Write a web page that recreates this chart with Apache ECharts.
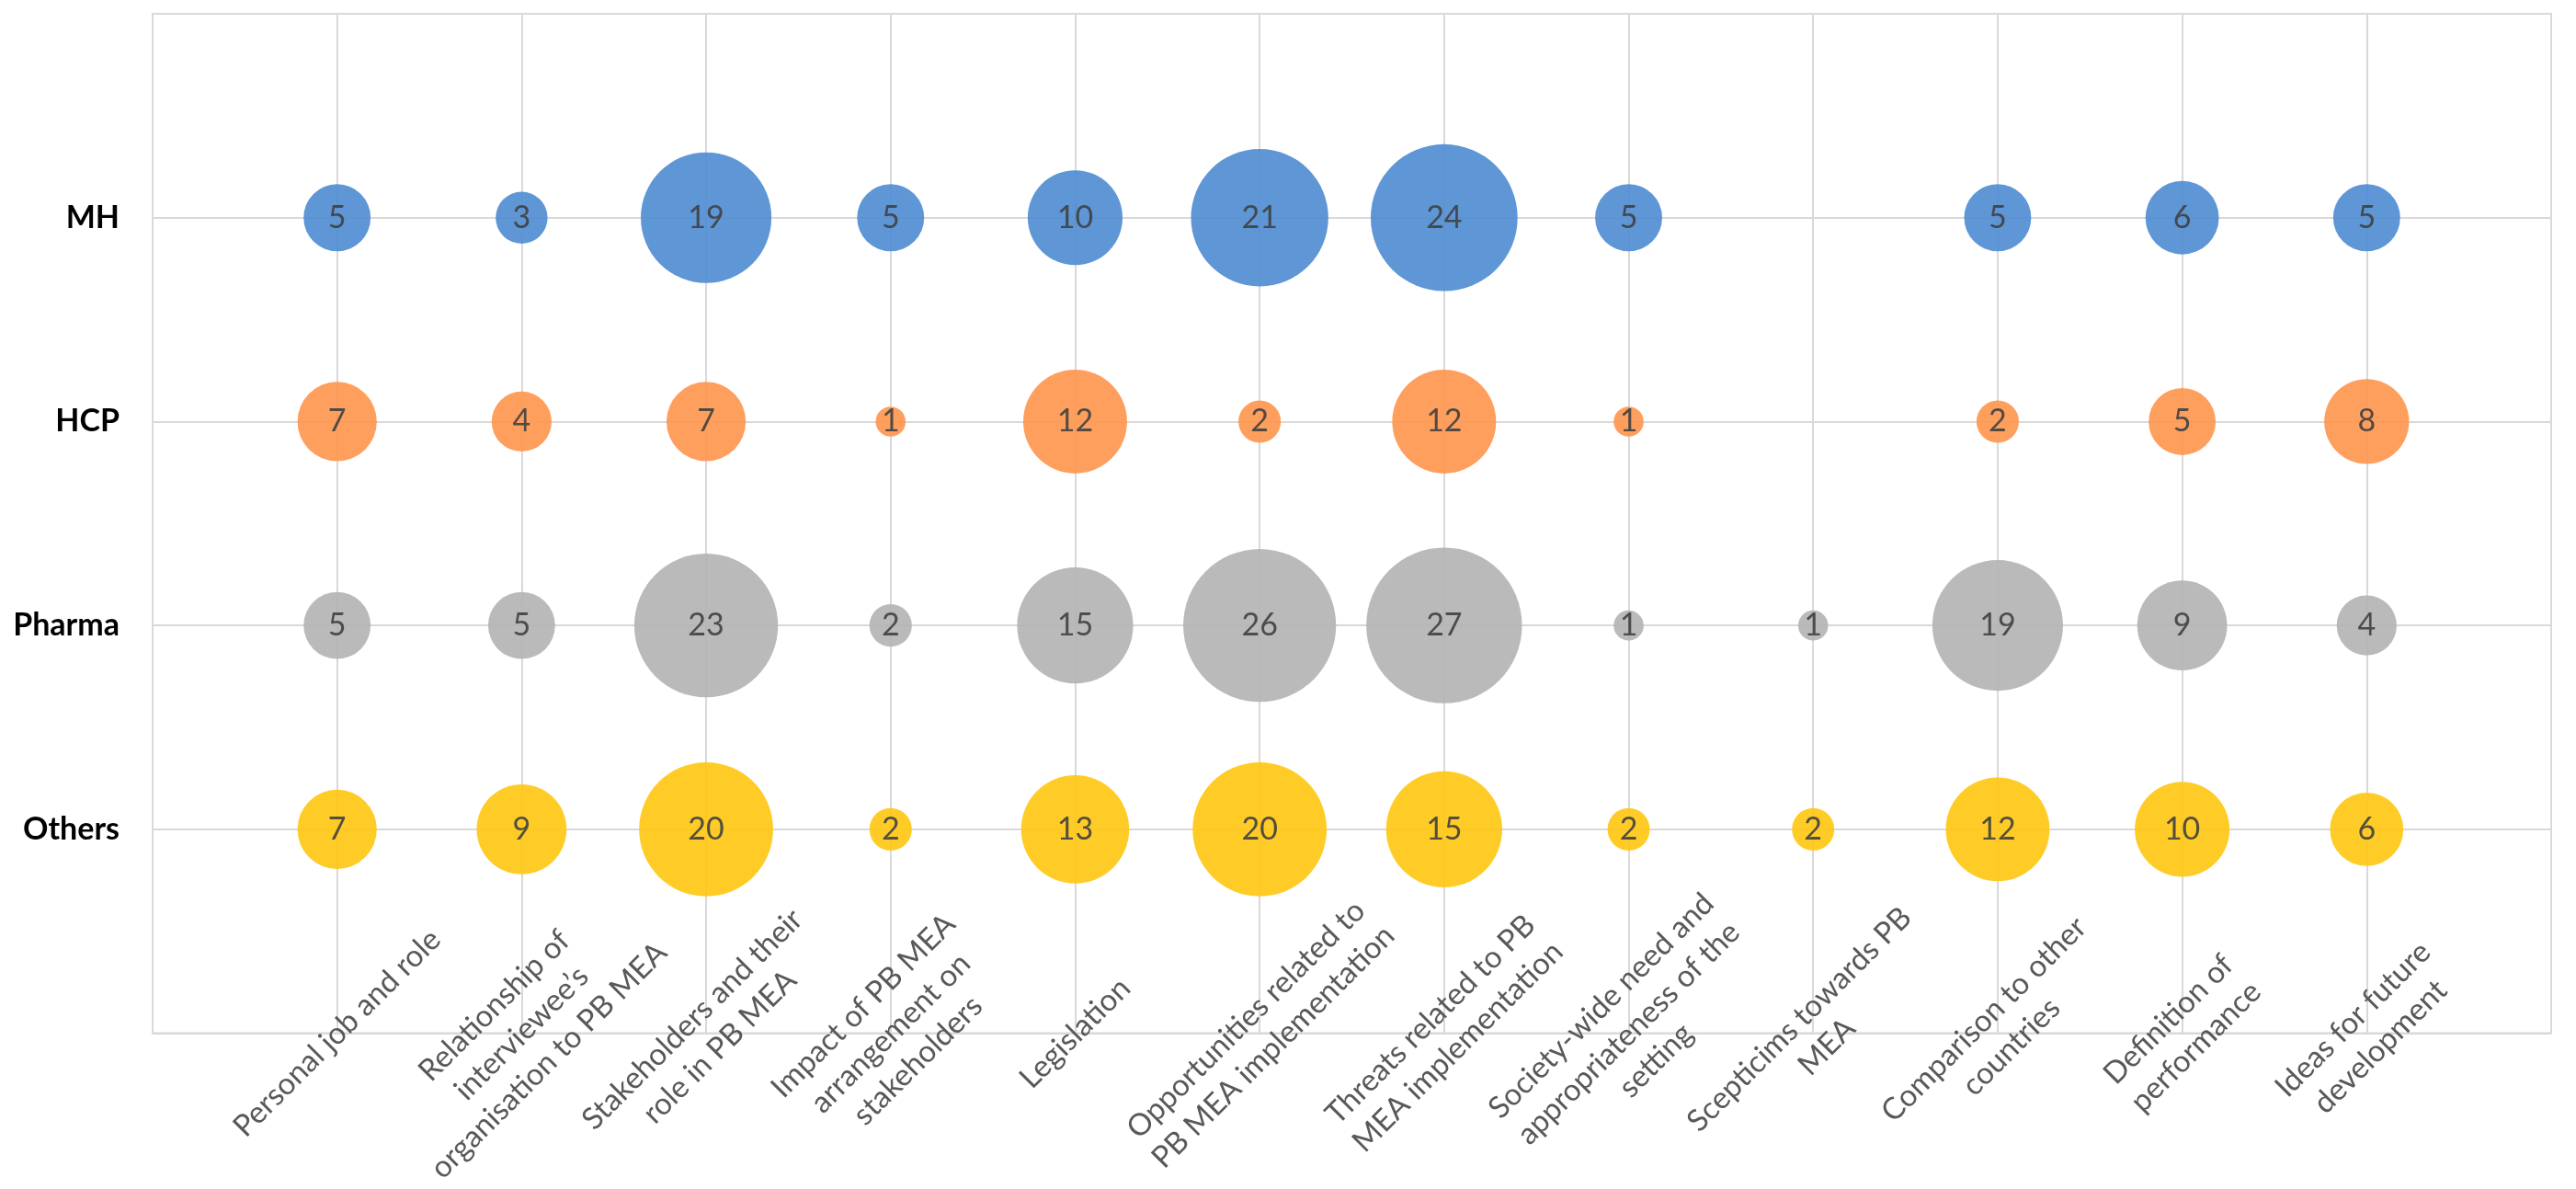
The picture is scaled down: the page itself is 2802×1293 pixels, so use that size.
<!DOCTYPE html>
<html>
<head>
<meta charset="utf-8">
<style>
  html, body { margin: 0; padding: 0; background: #ffffff; }
  #chart { width: 2802px; height: 1293px; }
</style>
<script src="https://cdn.jsdelivr.net/npm/echarts@6/dist/echarts.min.js"></script>
</head>
<body>
<div id="chart"></div>
<script>
// Categories (x axis, positions 1..12)
const categories = [
  "Personal job and role",
  "Relationship of\ninterviewee\u2019s\norganisation to PB MEA",
  "Stakeholders and their\nrole in PB MEA",
  "Impact of PB MEA\narrangement on\nstakeholders",
  "Legislation",
  "Opportunities related to\nPB MEA implementation",
  "Threats related to PB\nMEA implementation",
  "Society-wide need and\nappropriateness of the\nsetting",
  "Scepticims towards PB\nMEA",
  "Comparison to other\ncountries",
  "Definition of\nperformance",
  "Ideas for future\ndevelopment"
];

// Row groups (y axis, top to bottom)
const groups = ["MH", "HCP", "Pharma", "Others"];

// Values per group (null = no bubble)
const mhValues     = [5, 3, 19, 5, 10, 21, 24, 5, null, 5, 6, 5];
const hcpValues    = [7, 4, 7, 1, 12, 2, 12, 1, null, 2, 5, 8];
const pharmaValues = [5, 5, 23, 2, 15, 26, 27, 1, 1, 19, 9, 4];
const othersValues = [7, 9, 20, 2, 13, 20, 15, 2, 2, 12, 10, 6];

const seriesValues = [mhValues, hcpValues, pharmaValues, othersValues];
const colors = ["#4D8BD1", "#FF954C", "#B3B3B3", "#FFC710"];
const FONT = "Lato, 'Open Sans', sans-serif";

function yPos(groupIndex) { return groups.length - groupIndex; } // MH=4 ... Others=1

const series = seriesValues.map((vals, gi) => {
  const data = [];
  vals.forEach((v, ci) => {
    if (v !== null) data.push([ci + 1, yPos(gi), v]);
  });
  return {
    name: groups[gi],
    type: "scatter",
    data: data,
    symbol: "circle",
    symbolSize: d => 32.6 * Math.sqrt(d[2]),
    itemStyle: { color: colors[gi], opacity: 0.9 },
    label: {
      show: true,
      position: "inside",
      formatter: p => String(p.value[2]),
      color: "#404040",
      fontSize: 34,
      fontFamily: FONT
    },
    emphasis: { disabled: true },
    silent: true
  };
});

const chart = echarts.init(document.getElementById("chart"), null, { renderer: "canvas" });
chart.setOption({
  animation: false,
  backgroundColor: "#ffffff",
  grid: {
    left: 166, right: 27, top: 15, bottom: 127,
    show: true, borderColor: "#D9D9D9", borderWidth: 2, containLabel: false
  },
  xAxis: {
    type: "value", min: 0, max: 13, interval: 1,
    axisLine: { show: false },
    axisTick: { show: false },
    splitLine: { show: true, lineStyle: { color: "#D9D9D9", width: 2 } },
    axisLabel: {
      show: true,
      rotate: 45,
      margin: 0,
      align: "center",
      verticalAlign: "middle",
      color: "#595959",
      fontSize: 33,
      lineHeight: 42,
      fontFamily: FONT,
      formatter: v => (v >= 1 && v <= categories.length) ? categories[v - 1] : ""
    }
  },
  yAxis: {
    type: "value", min: 0, max: 5, interval: 1,
    axisLine: { show: false },
    axisTick: { show: false },
    splitLine: { show: true, lineStyle: { color: "#D9D9D9", width: 2 } },
    axisLabel: {
      show: true,
      margin: 36,
      color: "#000000",
      fontSize: 34,
      fontWeight: "bold",
      fontFamily: FONT,
      formatter: v => (v >= 1 && v <= groups.length) ? groups[groups.length - v] : ""
    }
  },
  series: series
});
</script>
</body>
</html>
